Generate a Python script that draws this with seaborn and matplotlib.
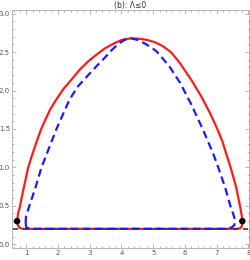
import matplotlib
matplotlib.use("Agg")
import matplotlib.pyplot as plt
import seaborn as sns
from matplotlib.ticker import MultipleLocator

# red solid loop
red_x = [0.71, 0.74, 0.80, 0.86, 0.93, 1.06, 1.20, 1.33, 1.46, 1.60, 1.76, 1.94, 2.17,
         2.42, 2.68, 2.95, 3.22, 3.48, 3.75, 4.01, 4.29, 4.55, 4.80, 5.05, 5.30, 5.56,
         5.82, 6.20, 6.52, 6.80, 7.02, 7.18, 7.30, 7.44, 7.61, 7.74, 7.80, 7.81, 7.80,
         7.75, 7.65, 6.00, 4.00, 2.00, 0.90, 0.80, 0.74, 0.71]
red_y = [0.30, 0.40, 0.49, 0.62, 0.75, 1.00, 1.18, 1.34, 1.49, 1.62, 1.76, 1.88, 2.02,
         2.14, 2.27, 2.38, 2.47, 2.55, 2.61, 2.66, 2.68, 2.675, 2.66, 2.63, 2.58, 2.50,
         2.37, 2.14, 1.92, 1.70, 1.50, 1.34, 1.18, 1.00, 0.75, 0.49, 0.35, 0.30, 0.24,
         0.21, 0.20, 0.20, 0.20, 0.20, 0.20, 0.21, 0.24, 0.30]

# blue dashed loop
blue_x = [0.98, 0.99, 1.09, 1.30, 1.48, 1.65, 1.94, 2.08, 2.36, 2.62, 2.95, 3.22, 3.48,
          3.70, 3.91, 4.10, 4.29, 4.50, 4.70, 4.92, 5.13, 5.50, 5.85, 6.20, 6.57, 6.89,
          7.05, 7.26, 7.44, 7.55, 7.58, 7.56, 7.48, 7.35, 6.00, 4.00, 2.00, 1.10, 1.00,
          0.98]
blue_y = [0.27, 0.36, 0.49, 0.75, 1.00, 1.18, 1.49, 1.62, 1.88, 2.05, 2.20, 2.32, 2.43,
          2.53, 2.61, 2.66, 2.68, 2.66, 2.62, 2.57, 2.50, 2.32, 2.10, 1.82, 1.49, 1.18,
          1.00, 0.75, 0.49, 0.36, 0.30, 0.25, 0.22, 0.20, 0.20, 0.20, 0.20, 0.20, 0.22,
          0.27]

dots_x = [0.71, 7.81]
dots_y = [0.30, 0.30]
base_x = [0.57, 8.02]
base_y = [0.20, 0.20]

sns.set_style("ticks")
fig = plt.figure(figsize=(2.5, 2.6), dpi=100)
ax = fig.add_axes([0.048, 0.046, 0.948, 0.916])

sns.lineplot(x=red_x, y=red_y, sort=False, estimator=None, color="#ff1a1a", lw=1.6, ax=ax, zorder=2)
ax.plot(base_x, base_y, color="#3a3a3a", lw=1.2, ls=(0, (3, 3)), zorder=3)
sns.lineplot(x=blue_x, y=blue_y, sort=False, estimator=None, color="#1a1aff", lw=1.6,
             ax=ax, zorder=4, linestyle=(0, (3.5, 2)))
sns.scatterplot(x=dots_x, y=dots_y, color="black", s=22, ax=ax, zorder=5, edgecolor="none")

ax.set_xlim(0.55, 8.02)
ax.set_ylim(-0.05, 3.05)
ax.xaxis.set_major_locator(MultipleLocator(1))
ax.xaxis.set_minor_locator(MultipleLocator(0.2))
ax.yaxis.set_major_locator(MultipleLocator(0.5))
ax.yaxis.set_minor_locator(MultipleLocator(0.1))
ax.tick_params(which="both", direction="in", top=True, right=True, colors="#999999",
               labelcolor="#555555", labelsize=5, pad=1.5, width=0.5)
ax.tick_params(which="major", length=3)
ax.tick_params(which="minor", length=1.5)
for s in ax.spines.values():
    s.set_color("#aaaaaa")
    s.set_linewidth(0.6)

ax.set_title("(b): Λ≤0", fontsize=5.5, color="#333333", pad=1.5)
fig.savefig("out.png", dpi=100)
